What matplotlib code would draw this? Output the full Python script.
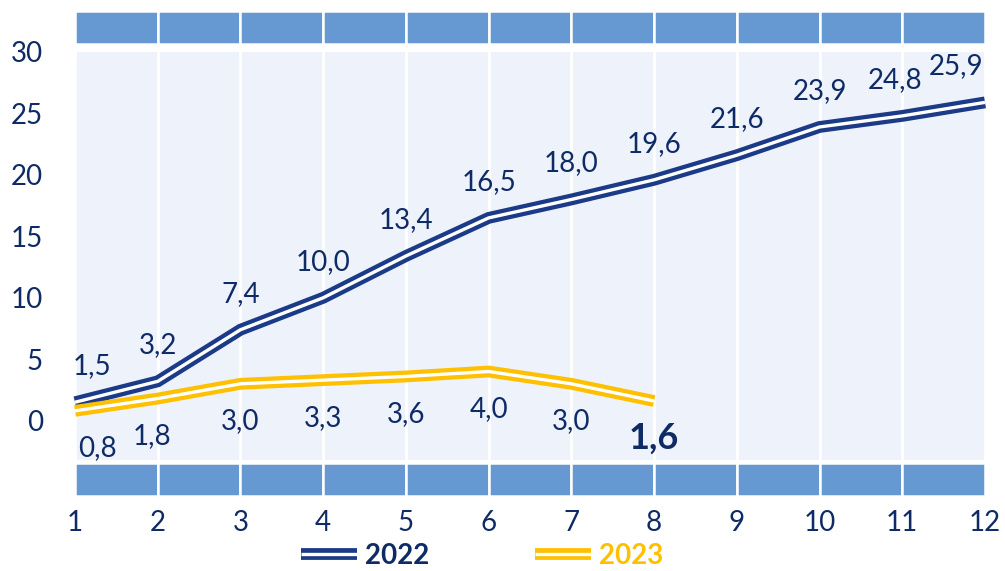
import numpy as np
import matplotlib.pyplot as plt
import matplotlib.patheffects as pe
from matplotlib.lines import Line2D

# данные
months = np.arange(1, 13)
v2022 = [1.5, 3.2, 7.4, 10.0, 13.4, 16.5, 18.0, 19.6, 21.6, 23.9, 24.8, 25.9]
months23 = np.arange(1, 9)
v2023 = [0.8, 1.8, 3.0, 3.3, 3.6, 4.0, 3.0, 1.6]
yticks = [0, 5, 10, 15, 20, 25, 30]

navy = '#0F2B66'
c2022 = '#1B3A87'
c2023 = '#FFC000'
band = '#6699D1'
bg = '#EEF2FA'

plt.rcParams['font.family'] = ['Lato', 'DejaVu Sans']

fig = plt.figure(figsize=(10.05, 5.71), dpi=100)
W, H = 1005, 571
ax = fig.add_axes([75 / W, (H - 460) / H, 910 / W, 408 / H])
ax_top = fig.add_axes([75 / W, (H - 44) / H, 910 / W, 33 / H])
ax_bot = fig.add_axes([75 / W, (H - 496) / H, 910 / W, 33 / H])

# синие полосы сверху и снизу
for b in (ax_top, ax_bot):
    b.bar(months[:-1] + 0.5, 1, width=1, color=band, edgecolor='white', linewidth=1.8)
    b.set_xlim(1, 12)
    b.set_ylim(0, 1)
    b.axis('off')

ax.set_facecolor(bg)
for s in ax.spines.values():
    s.set_visible(False)
ax.set_xlim(1, 12)
ax.set_ylim(-3.2, 30)
ax.set_xticks(months)
ax.grid(axis='x', color='white', linewidth=2)
ax.set_axisbelow(True)
ax.set_yticks(yticks)
ax.tick_params(length=0, labelsize=20, labelcolor=navy)
ax.tick_params(axis='x', pad=36)
ax.tick_params(axis='y', pad=23)


def double(color):
    return [pe.Stroke(linewidth=8.5, foreground=color, capstyle='butt'),
            pe.Stroke(linewidth=2.4, foreground='white', capstyle='butt')]


ax.plot(months, v2022, color=c2022, linewidth=8.5, path_effects=double(c2022),
        solid_joinstyle='miter', clip_on=False)
ax.plot(months23, v2023, color=c2023, linewidth=8.5, path_effects=double(c2023),
        solid_joinstyle='miter', clip_on=False)

# подписи данных
shift22 = {1: 12, 11: -5, 12: -21}
for x, v in zip(months, v2022):
    ax.annotate(f'{v:.1f}'.replace('.', ','), (x, v), xytext=(shift22.get(x, 0), 26),
                textcoords='offset points', ha='center', va='center',
                fontsize=20, color=navy)
shift23 = {1: 16, 2: -4}
for x, v in zip(months23, v2023):
    last = x == months23[-1]
    ax.annotate(f'{v:.1f}'.replace('.', ','), (x, v), xytext=(shift23.get(x, 0), -27),
                textcoords='offset points', ha='center', va='center',
                fontsize=26 if last else 20, fontweight='bold' if last else 'normal',
                color=navy)

# легенда
h1 = Line2D([], [], color=c2022, linewidth=8.5, path_effects=double(c2022))
h2 = Line2D([], [], color=c2023, linewidth=8.5, path_effects=double(c2023))
leg = fig.legend([h1, h2], ['2022', '2023'], loc='center', bbox_to_anchor=(0.48, 0.027),
                 ncol=2, frameon=False, handlelength=2.0,
                 handletextpad=0.3, columnspacing=3.8, prop={'weight': 'bold', 'size': 20})
for t, c in zip(leg.get_texts(), [navy, c2023]):
    t.set_color(c)

fig.savefig('out.png', dpi=100)
